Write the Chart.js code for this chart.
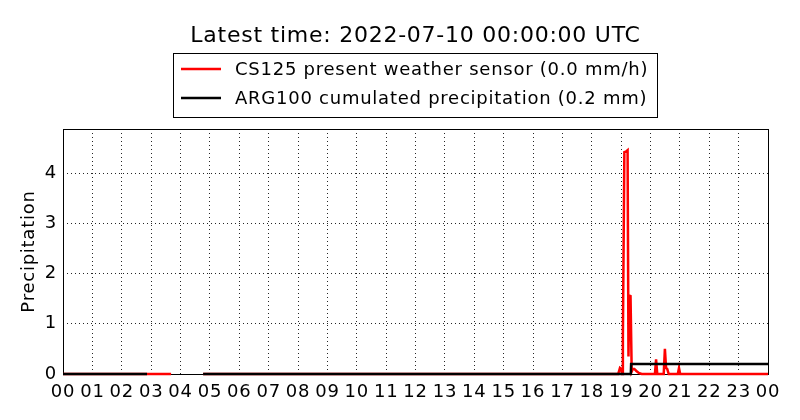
<!DOCTYPE html>
<html>
<head>
<meta charset="utf-8">
<script src="https://cdn.jsdelivr.net/npm/chart.js@4.4.0/dist/chart.umd.min.js"></script>
<style>
    html, body { margin: 0; padding: 0; background: #fff; }
    canvas { display: block; }
</style>
</head>
<body>
<canvas id="precipChart" width="800" height="420"></canvas>
<script>
// Tick labels for the hour axis (00 .. 23, then 00 of the next day)
const hourLabels = ['00', '01', '02', '03', '04', '05', '06', '07', '08', '09', '10', '11',
    '12', '13', '14', '15', '16', '17', '18', '19', '20', '21', '22', '23', '00'];

// CS125 present weather sensor, mm/h (x in hours UTC, null = no data)
const cs125Hours = [0, 3.68, 3.70, 4.77, 18.90, 18.96, 19.00, 19.03, 19.06, 19.11, 19.16, 19.22,
    19.25, 19.28, 19.32, 19.36, 19.40, 19.45, 19.52, 19.60, 19.70, 20.15, 20.19, 20.23,
    20.45, 20.49, 20.53, 20.57, 20.62, 20.93, 20.97, 21.01, 24];
const cs125Values = [0, 0, null, 0, 0, 0.12, 0.10, 0, 0.75, 4.42, 4.43, 4.46,
    0.35, 1.56, 1.55, 0.05, 0.10, 0.10, 0.06, 0.02, 0, 0, 0.29, 0,
    0, 0.50, 0.12, 0.10, 0, 0, 0.12, 0, 0];

// ARG100 cumulated precipitation, mm
const arg100Hours = [0, 2.86, 2.88, 4.77, 19.33, 19.34, 24];
const arg100Values = [0, 0, null, 0, 0, 0.2, 0.2];

const toPoints = (xs, ys) => xs.map((x, i) => ({ x: x, y: ys[i] }));

const FONT = 'DejaVu Sans';
const SPACING = '0.75px'; // old matplotlib text renders a bit wider

// wider letter spacing for all chart text
const textSpacing = {
    id: 'textSpacing',
    beforeUpdate(chart) { chart.ctx.letterSpacing = SPACING; },
    beforeDraw(chart) { chart.ctx.letterSpacing = SPACING; }
};

// axes frame, drawn under the lines like matplotlib
const axesFrame = {
    id: 'axesFrame',
    beforeDatasetsDraw(chart) {
        const ctx = chart.ctx;
        const a = chart.chartArea;
        ctx.save();
        ctx.strokeStyle = '#000';
        ctx.lineWidth = 1;
        ctx.strokeRect(Math.round(a.left) + 0.5, Math.round(a.top) + 0.5,
            Math.round(a.right - a.left), Math.round(a.bottom - a.top));
        ctx.restore();
    }
};

// matplotlib-like boxed legend above the axes
const boxLegend = {
    id: 'boxLegend',
    afterDraw(chart) {
        const ctx = chart.ctx;
        const sets = [chart.data.datasets[1], chart.data.datasets[0]];
        ctx.save();
        ctx.fillStyle = '#fff';
        ctx.fillRect(173.5, 53.5, 484, 64);
        ctx.strokeStyle = '#000';
        ctx.lineWidth = 1;
        ctx.strokeRect(173.5, 53.5, 484, 64);
        ctx.font = '18px "' + FONT + '"';
        ctx.textBaseline = 'middle';
        ctx.fillStyle = '#000';
        sets.forEach((ds, i) => {
            const y = 69 + i * 29;
            ctx.strokeStyle = ds.borderColor;
            ctx.lineWidth = 2.5;
            ctx.beginPath();
            ctx.moveTo(181, y);
            ctx.lineTo(221, y);
            ctx.stroke();
            ctx.fillText(ds.label, 235, y + 1);
        });
        ctx.restore();
    }
};

const ctx = document.getElementById('precipChart').getContext('2d');
const precipChart = new Chart(ctx, {
    type: 'line',
    data: {
        datasets: [{
            label: 'ARG100 cumulated precipitation (0.2 mm)',
            data: toPoints(arg100Hours, arg100Values),
            borderColor: '#000000',
            borderWidth: 2.5,
            pointRadius: 0,
            tension: 0,
            clip: 3,
            order: 0
        }, {
            label: 'CS125 present weather sensor (0.0 mm/h)',
            data: toPoints(cs125Hours, cs125Values),
            borderColor: '#ff0000',
            borderWidth: 2.5,
            pointRadius: 0,
            tension: 0,
            clip: 3,
            order: 1
        }]
    },
    options: {
        responsive: false,
        animation: false,
        devicePixelRatio: 1,
        layout: { padding: { left: 0, right: 32, top: 0, bottom: 0 } },
        plugins: {
            legend: { display: false },
            tooltip: { enabled: false },
            title: {
                display: true,
                fullSize: false,
                text: 'Latest time: 2022-07-10 00:00:00 UTC',
                color: '#000',
                font: { family: FONT, size: 22, weight: 'normal' },
                padding: { top: 23, bottom: 79.6 }
            }
        },
        scales: {
            x: {
                type: 'linear',
                min: 0,
                max: 24,
                afterFit: (scale) => { scale.height = 46; },
                border: { display: false, dash: [1, 3] },
                grid: { color: 'rgba(0,0,0,0.85)', lineWidth: 1, drawTicks: false },
                ticks: {
                    stepSize: 1,
                    autoSkip: false,
                    maxRotation: 0,
                    includeBounds: false,
                    padding: 8,
                    color: '#000',
                    font: { family: FONT, size: 18 },
                    callback: (v) => hourLabels[v]
                }
            },
            y: {
                min: 0,
                max: 4.88,
                afterFit: (scale) => { scale.width = 63; },
                border: { display: false, dash: [1, 3] },
                grid: { color: 'rgba(0,0,0,0.85)', lineWidth: 1, drawTicks: false },
                ticks: {
                    stepSize: 1,
                    includeBounds: false,
                    padding: 6,
                    color: '#000',
                    font: { family: FONT, size: 18 }
                },
                title: {
                    display: true,
                    text: 'Precipitation',
                    color: '#000',
                    font: { family: FONT, size: 18 },
                    padding: { top: 19, bottom: 0 }
                }
            }
        }
    },
    plugins: [textSpacing, axesFrame, boxLegend]
});
</script>
</body>
</html>
